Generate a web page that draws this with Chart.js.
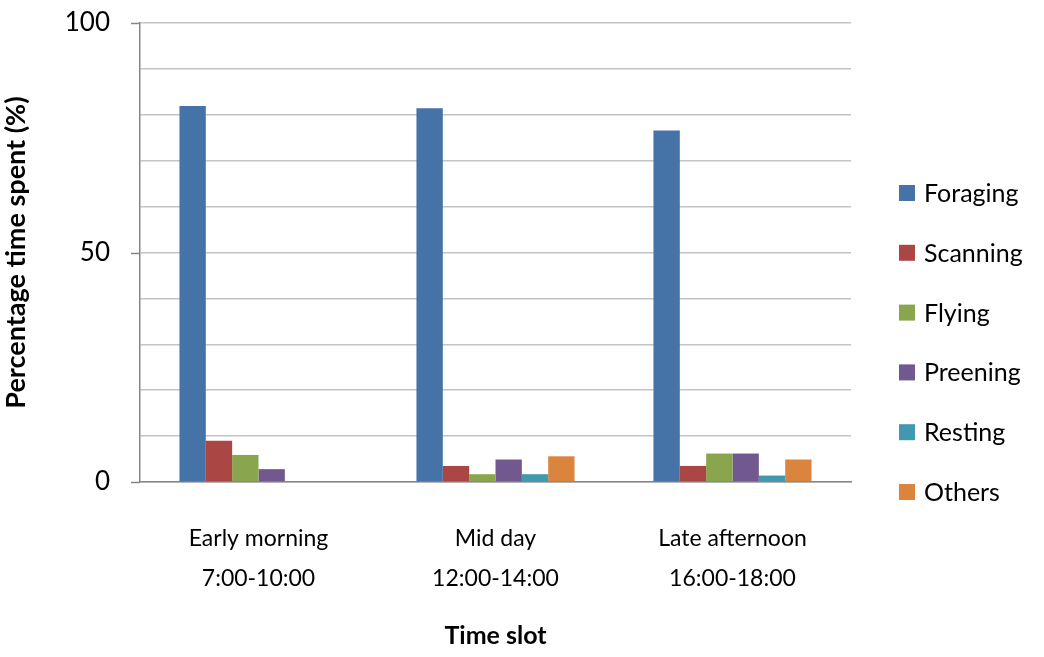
<!DOCTYPE html>
<html lang="en">
<head>
   <meta charset="UTF-8">
   <title>Time budget</title>
   <script src="https://cdn.jsdelivr.net/npm/chart.js"></script>
   <style>
       html, body { margin: 0; padding: 0; background: #fff; }
       #wrap { width: 1044px; height: 657px; }
   </style>
</head>
<body>
   <div id="wrap"><canvas id="budgetChart" width="1044" height="657"></canvas></div>

   <script>
       const timeSlots = [['Early morning', '7:00-10:00'], ['Mid day', '12:00-14:00'], ['Late afternoon', '16:00-18:00']];
       const behaviours = ['Foraging', 'Scanning', 'Flying', 'Preening', 'Resting', 'Others'];
       const colours = ['#4572A7', '#AA4643', '#89A54E', '#71588F', '#4198AF', '#DB843D'];

       const foraging = [81.9, 81.4, 76.6];
       const scanning = [9.0, 3.5, 3.5];
       const flying = [5.9, 1.7, 6.2];
       const preening = [2.8, 4.9, 6.2];
       const resting = [0, 1.7, 1.4];
       const others = [0, 5.6, 4.9];

       const yTicks = [0, 50, 100];

       const seriesValues = [foraging, scanning, flying, preening, resting, others];
       const font = 'Lato';

       // legend drawn by hand so the boxes sit where the original has them
       const sideLegend = {
           id: 'sideLegend',
           afterDraw(chart) {
               const c = chart.ctx;
               const x = chart.chartArea.right + 48;
               c.save();
               c.font = '25px ' + font;
               c.textBaseline = 'middle';
               chart.data.datasets.forEach((ds, i) => {
                   const y = 193 + i * 59.8;
                   c.fillStyle = ds.backgroundColor;
                   c.fillRect(x, y - 8, 16, 16);
                   c.fillStyle = '#000';
                   c.fillText(ds.label, x + 25, y + 1);
               });
               c.restore();
           }
       };

       // short outward marks at the labelled y ticks
       const majorTicks = {
           id: 'majorTicks',
           afterDraw(chart) {
               const y = chart.scales.y;
               const c = chart.ctx;
               c.save();
               c.strokeStyle = '#868686';
               c.lineWidth = 1.5;
               yTicks.forEach(v => {
                   const py = Math.round(y.getPixelForValue(v)) + 0.5;
                   c.beginPath();
                   c.moveTo(y.right - 9, py);
                   c.lineTo(y.right, py);
                   c.stroke();
               });
               c.restore();
           }
       };

       const ctx = document.getElementById('budgetChart').getContext('2d');
       new Chart(ctx, {
           type: 'bar',
           data: {
               labels: timeSlots,
               datasets: behaviours.map((name, i) => ({
                   label: name,
                   data: seriesValues[i],
                   backgroundColor: colours[i],
                   borderWidth: 0,
                   barPercentage: 1,
                   categoryPercentage: 0.667
               }))
           },
           options: {
               responsive: false,
               animation: false,
               layout: { padding: { top: 0, right: 193, left: 0, bottom: 0 } },
               plugins: {
                   legend: { display: false },
                   tooltip: { enabled: false }
               },
               scales: {
                   x: {
                       afterFit: scale => { scale.height = 175; },
                       grid: { display: false, drawTicks: false },
                       border: { color: '#868686', width: 1.5 },
                       ticks: {
                           color: '#000',
                           padding: 36,
                           font: { family: font, size: 23, lineHeight: 1.75 }
                       },
                       title: {
                           display: true,
                           text: 'Time slot',
                           color: '#000',
                           padding: { top: 0, bottom: 6 },
                           font: { family: font, size: 25, weight: 'bold' }
                       }
                   },
                   y: {
                       min: 0,
                       max: 100,
                       afterFit: scale => {
                           scale.width = 140;
                           scale.paddingTop = 23;
                       },
                       grid: {
                           color: '#c4c4c4',
                           lineWidth: 1.5,
                           drawTicks: false
                       },
                       border: { color: '#868686', width: 1.5 },
                       afterBuildTicks: scale => {
                           scale.ticks = [];
                           for (let v = 0; v <= 100; v += 10) scale.ticks.push({ value: v });
                       },
                       ticks: {
                           color: '#000',
                           padding: 30,
                           font: { family: font, size: 26 },
                           callback: v => yTicks.includes(v) ? String(v) : ''
                       },
                       title: {
                           display: true,
                           text: 'Percentage time spent (%)',
                           color: '#000',
                           padding: { top: 0, bottom: 0 },
                           font: { family: font, size: 27, weight: 'bold' }
                       }
                   }
               }
           },
           plugins: [sideLegend, majorTicks]
       });
   </script>
</body>
</html>
